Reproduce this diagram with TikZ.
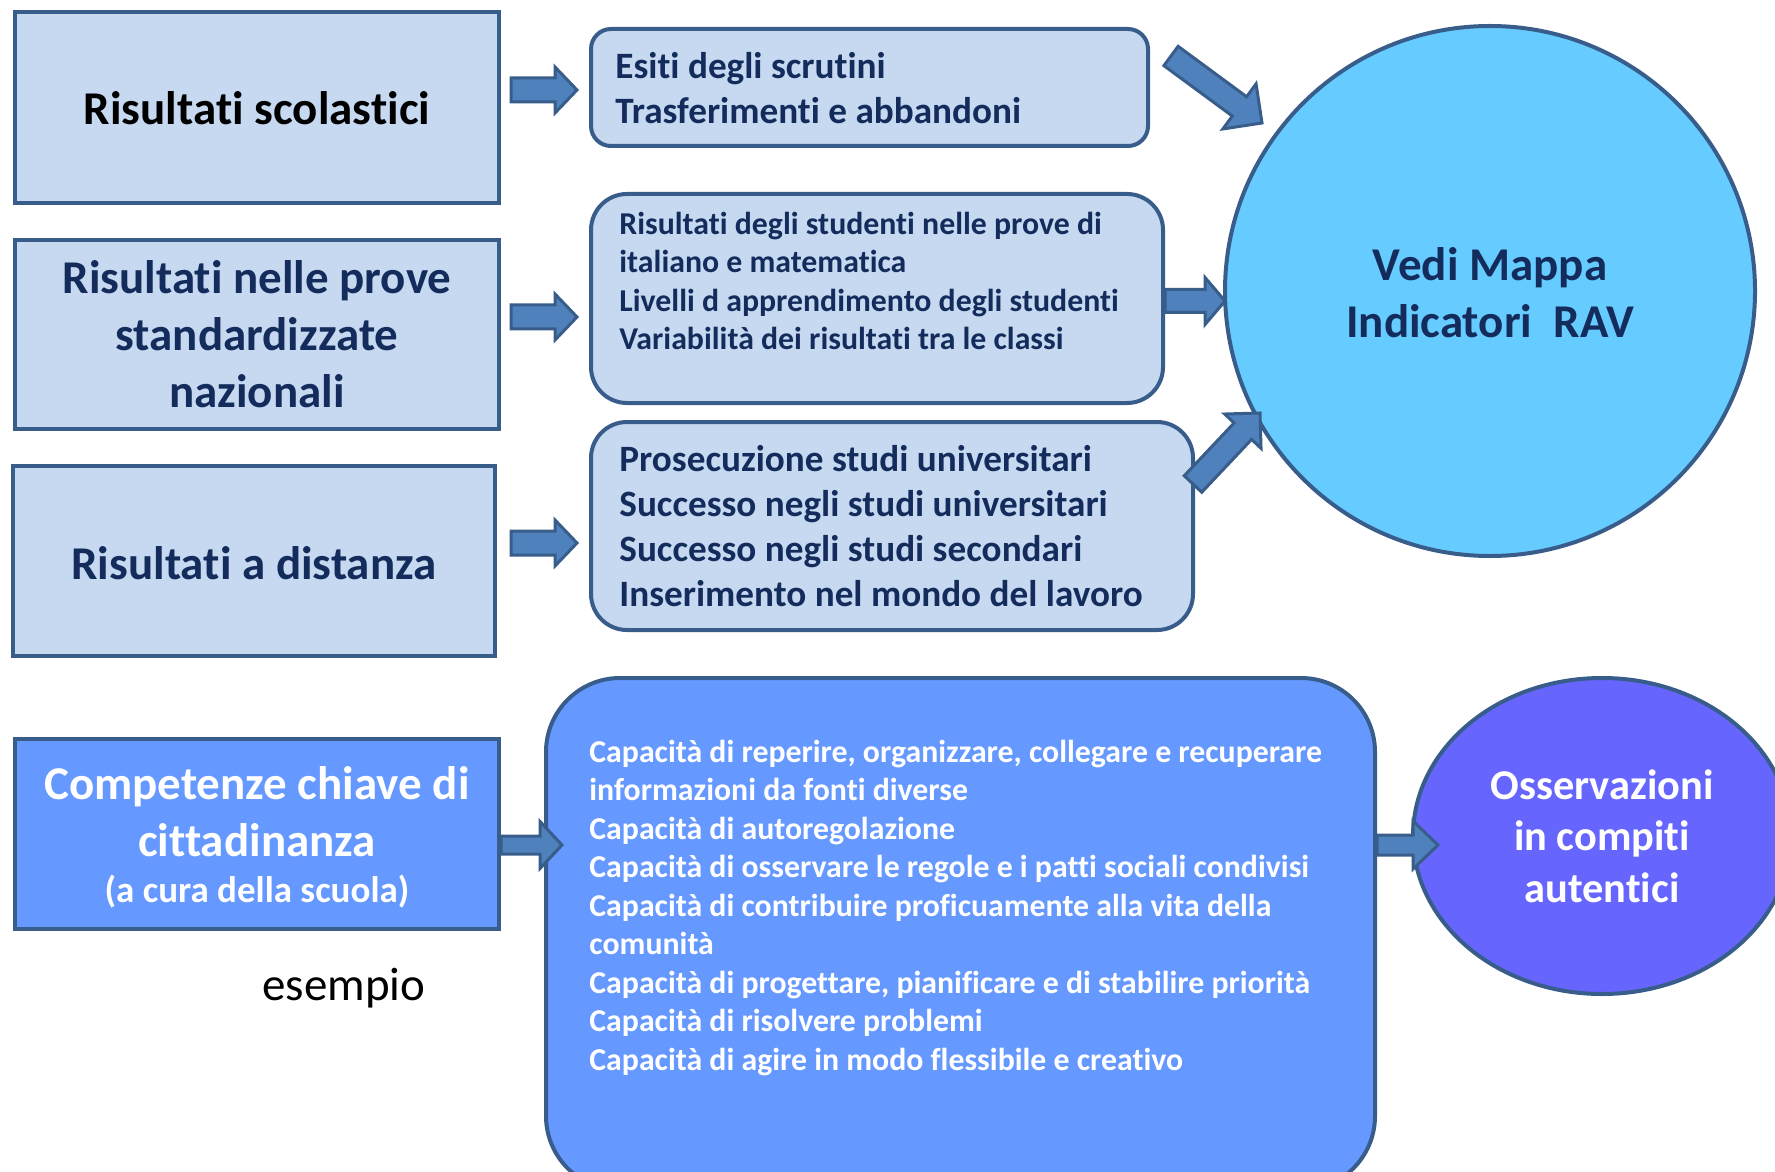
\documentclass[tikz,border=0pt]{standalone}
\usepackage{fontspec}
\setmainfont{Carlito}[Ligatures=NoCommon]
\usetikzlibrary{calc,shapes.geometric}
\definecolor{lightbox}{HTML}{C6D9F1}
\definecolor{edge}{HTML}{385D8A}
\definecolor{navy}{HTML}{142C5C}
\definecolor{cyanfill}{HTML}{66CCFF}
\definecolor{bluefill}{HTML}{6699FF}
\definecolor{violetfill}{HTML}{6666FF}
\definecolor{arrowfill}{HTML}{4F81BD}
\newcommand\blockarrow[5]{%
  \path ($(#2)!#5!(#1)$) coordinate (ah);
  \draw[barrowstyle] ($(#1)!#3!90:(#2)$) -- ($(ah)!#3!90:(#2)$) -- ($(ah)!#4!90:(#2)$) -- (#2)
    -- ($(ah)!#4!-90:(#2)$) -- ($(ah)!#3!-90:(#2)$) -- ($(#1)!#3!-90:(#2)$) -- cycle;}
\begin{document}
\begin{tikzpicture}[x=0.5pt,y=-0.5pt,
  sqbox/.style={draw=edge, line width=2.2pt, fill=lightbox, rectangle, inner sep=0},
  rbox/.style={draw=edge, line width=2pt, fill=lightbox, rectangle, rounded corners=#1, inner sep=0},
  barrowstyle/.style={draw=edge, line width=1.5pt, fill=arrowfill, line join=miter},
  big/.style={font=\bfseries\fontsize{23.5}{28.5}\selectfont, align=center, inner sep=0},
  mid/.style={font=\bfseries\fontsize{18.6}{22.5}\selectfont, align=left, inner sep=0, anchor=west, text=navy},
  small/.style={font=\bfseries\fontsize{15.9}{19.25}\selectfont, align=left, inner sep=0, anchor=west},
]
\clip (0,0) rectangle (1775,1171);
% left boxes
\node[sqbox, minimum width=242pt, minimum height=95.5pt] (b1) at (257,107.5) {};
\node[sqbox, minimum width=242pt, minimum height=94.5pt] (b2) at (257,334.5) {};
\node[sqbox, minimum width=241pt, minimum height=95pt] (b3) at (254,561) {};
\node[sqbox, fill=bluefill, minimum width=242pt, minimum height=95pt] (b4) at (257,834) {};
% rounded boxes
\node[rbox=10pt, minimum width=278.5pt, minimum height=58.5pt] (ra) at (869.5,87.5) {};
\node[rbox=18pt, minimum width=286pt, minimum height=104.5pt] (rb) at (877,298.5) {};
\node[rbox=18pt, minimum width=301pt, minimum height=104pt] (rc) at (892,526) {};
\node[rbox=37pt, fill=bluefill, minimum width=414.5pt, minimum height=256pt] (rd) at (960.5,934) {};
% circle and ellipse
\node[circle, draw=edge, line width=2pt, fill=cyanfill, minimum size=265pt, inner sep=0] (circ) at (1490,291) {};
\node[ellipse, draw=edge, line width=2pt, fill=violetfill, minimum width=189pt, minimum height=158pt, inner sep=0] (ell) at (1602,836) {};
% texts
\node[big, text=black] (t1) at (257,108) {Risultati scolastici};
\node[big, text=navy] (t2) at (257,334) {Risultati nelle prove\\standardizzate\\nazionali};
\node[big, text=navy] (t3) at (254,563) {Risultati a distanza};
\node[big, text=white] (t4) at (257,811.5) {Competenze chiave di\\cittadinanza};
\node[inner sep=0, text=white, font=\bfseries\fontsize{18.5}{22}\selectfont] (t4b) at (257,892) {(a cura della scuola)};
\node[big, text=navy] (tc) at (1490,292.5) {Vedi Mappa\\Indicatori\ \ RAV};
\node[text=white, font=\bfseries\fontsize{21.2}{25.75}\selectfont, align=center, inner sep=0] (te) at (1602,836) {Osservazioni\\in compiti\\autentici};
\node[inner sep=0, text=black, font=\fontsize{23.5}{28}\selectfont] (tx) at (344,988) {esempio};
\node[mid] (ta) at (615,88.5) {Esiti degli scrutini\\Trasferimenti e abbandoni};
\node[small, text=navy] (tb) at (619,281) {Risultati degli studenti nelle prove di\\italiano e matematica\\Livelli d apprendimento degli studenti\\Variabilità dei risultati tra le classi};
\node[mid] (tcc) at (619,526) {Prosecuzione studi universitari\\Successo negli studi universitari\\Successo negli studi secondari\\Inserimento nel mondo del lavoro};
\node[small, text=white] (td) at (589,908) {Capacità di reperire, organizzare, collegare e recuperare\\informazioni da fonti diverse\\Capacità di autoregolazione\\Capacità di osservare le regole e i patti sociali condivisi\\Capacità di contribuire proficuamente alla vita della\\comunità\\Capacità di progettare, pianificare e di stabilire priorità\\Capacità di risolvere problemi\\Capacità di agire in modo flessibile e creativo};
% arrow coordinates
\coordinate (a1s) at (511,90);   \coordinate (a1e) at (577,90);
\coordinate (a2s) at (511,317);  \coordinate (a2e) at (577,317);
\coordinate (a3s) at (511,543);  \coordinate (a3e) at (577,543);
\coordinate (a4s) at (501,845);  \coordinate (a4e) at (562,845);
\coordinate (a5s) at (1377,845); \coordinate (a5e) at (1438,845);
\coordinate (a6s) at (1165,301); \coordinate (a6e) at (1225,301);
\coordinate (a7s) at (1193,484); \coordinate (a7e) at (1260,413);
\coordinate (a8s) at (1171,56);  \coordinate (a8e) at (1262,123);
\blockarrow{a1s}{a1e}{6pt}{11.5pt}{11pt}
\blockarrow{a2s}{a2e}{6pt}{11.5pt}{11pt}
\blockarrow{a3s}{a3e}{6pt}{11.5pt}{11pt}
\blockarrow{a4s}{a4e}{4.5pt}{11.75pt}{11pt}
\blockarrow{a5s}{a5e}{5pt}{12pt}{12.5pt}
\blockarrow{a6s}{a6e}{5.75pt}{11.75pt}{10pt}
\blockarrow{a7s}{a7e}{6pt}{12.5pt}{12.5pt}
\blockarrow{a8s}{a8e}{6pt}{14pt}{14pt}
\end{tikzpicture}
\end{document}
